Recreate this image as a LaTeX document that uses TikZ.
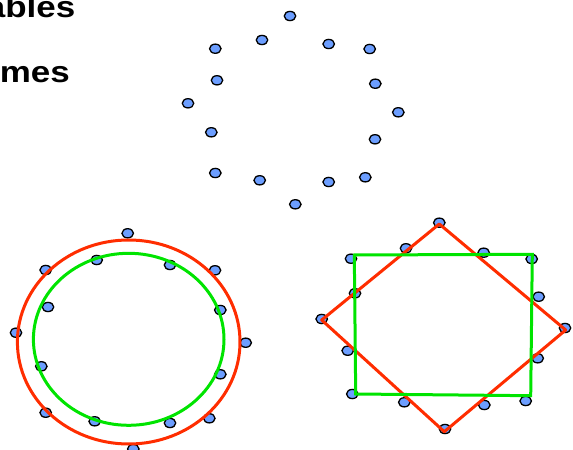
\documentclass[tikz,border=0pt]{standalone}
\usepackage{fontspec}
\setmainfont{Liberation Sans}
\definecolor{dotblue}{RGB}{108,158,255}
\definecolor{ringred}{RGB}{255,45,0}
\definecolor{ringgreen}{RGB}{0,228,0}
\tikzset{
  pt/.style={draw=black, line width=1.3bp, fill=dotblue, ellipse, minimum width=11.5bp, minimum height=9.2bp, inner sep=0pt},
  redline/.style={draw=ringred, line width=3bp},
  greenline/.style={draw=ringgreen, line width=3bp},
  title/.style={font=\bfseries\fontsize{30}{30}\selectfont, inner sep=0pt, xscale=1.17}
}
\usetikzlibrary{shapes.geometric}
\begin{document}
\begin{tikzpicture}[x=1bp,y=-1bp]
\useasboundingbox (0,0) rectangle (573,450);
% titles
\node[title, anchor=base east] (t1) at (75.5,18) {ables};
\node[title, anchor=base east] (t2) at (70,83) {mes};
% top scattered points
\foreach \x/\y [count=\i] in {290/16, 262/40, 328.7/44, 215.3/48.7, 369.7/49, 217/80.3, 375.3/83.7, 188/103.3, 398.3/112.3, 211.3/132.3, 375/139.3, 215.3/173, 259.7/180.3, 328.7/182, 365.3/177.3, 295.3/204.3}
  \node[pt] (a\i) at (\x,\y) {};
% bottom-left points
\foreach \x/\y [count=\i] in {127.7/233.3, 45.7/270, 96.7/260, 170/265, 215/270.3, 48/307, 220.3/310, 16/332.7, 245.7/342.7, 41.3/366.3, 220.3/374.3, 45.7/412.7, 94.7/421.3, 170/423, 209.3/418.3, 133.3/449}
  \node[pt] (b\i) at (\x,\y) {};
% bottom-right points
\foreach \x/\y [count=\i] in {439.3/222.7, 406/248.3, 483.7/252.7, 351/258.7, 531.7/259, 355/293.3, 538.7/296.7, 321.7/319, 565/328, 347.7/350.7, 537.7/358.3, 352.3/394, 525.7/401, 404.3/402.3, 484.3/405, 445/429}
  \node[pt] (c\i) at (\x,\y) {};
% ellipses
\draw[redline] (128.7,342) ellipse [x radius=111.3, y radius=102];
\draw[greenline] (128.7,339.3) ellipse [x radius=95.3, y radius=86];
% polygons
\coordinate (rT) at (439.3,224);
\coordinate (rL) at (321.7,320);
\coordinate (rB) at (444.3,431.7);
\coordinate (rR) at (565.7,330);
\draw[redline, line join=round] (rT) -- (rR) -- (rB) -- (rL) -- cycle;
\coordinate (gTL) at (354.3,255);
\coordinate (gTR) at (532.3,254.3);
\coordinate (gBR) at (530.7,395.7);
\coordinate (gBL) at (355.7,394);
\draw[greenline] (gTL) -- (gTR) -- (gBR) -- (gBL) -- cycle;
\end{tikzpicture}
\end{document}
